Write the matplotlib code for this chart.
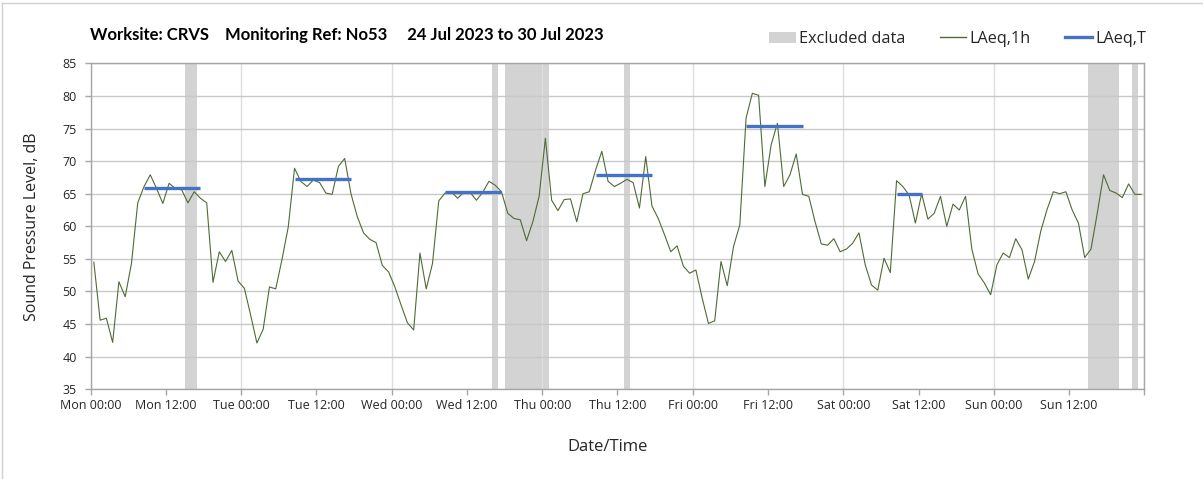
import matplotlib.pyplot as plt
import numpy as np
from matplotlib.lines import Line2D
from matplotlib.patches import Patch

plt.rcParams['font.family'] = ['Open Sans', 'DejaVu Sans']

# hourly LAeq,1h from Mon 24 Jul 00:00
laeq_1h = [
    54.5, 45.6, 45.9, 42.2, 51.5, 49.2, 54.3, 63.6, 66.1, 67.9, 65.8, 63.5,
    66.6, 65.8, 65.6, 63.6, 65.3, 64.3, 63.6, 51.4, 56.1, 54.6, 56.3, 51.6,
    50.5, 46.4, 42.1, 44.2, 50.7, 50.4, 54.9, 59.9, 68.9, 66.9, 66.1, 67.1,
    66.7, 65.1, 64.9, 69.2, 70.4, 65.0, 61.5, 59.0, 58.0, 57.5, 54.0, 53.0,
    50.7, 47.9, 45.2, 44.1, 55.9, 50.4, 54.3, 63.9, 65.1, 65.3, 64.3, 65.2,
    65.2, 64.0, 65.2, 66.9, 66.3, 65.3, 62.0, 61.2, 61.0, 57.8, 60.7, 64.6,
    73.5, 64.0, 62.4, 64.1, 64.2, 60.7, 65.0, 65.3, 68.6, 71.5, 66.9, 66.1,
    66.6, 67.2, 66.7, 62.8, 70.7, 63.1, 61.2, 58.7, 56.1, 57.0, 53.9, 52.8,
    53.3, 49.0, 45.1, 45.5, 54.6, 50.9, 56.9, 60.2, 76.6, 80.4, 80.1, 66.1,
    72.5, 75.8, 66.1, 67.9, 71.1, 64.9, 64.6, 60.7, 57.3, 57.1, 58.1, 56.1,
    56.5, 57.4, 59.0, 54.1, 51.0, 50.2, 55.1, 52.9, 67.0, 66.1, 64.8, 60.5,
    65.0, 61.1, 62.0, 64.6, 60.0, 63.4, 62.5, 64.6, 56.5, 52.7, 51.3, 49.5,
    54.1, 55.9, 55.2, 58.1, 56.4, 51.9, 54.6, 59.3, 62.6, 65.3, 65.0, 65.3,
    62.5, 60.5, 55.2, 56.5, 62.0, 67.9, 65.5, 65.1, 64.4, 66.5, 64.9, 64.9,
]

# excluded data periods (hours from Mon 00:00)
excluded_start = [15, 64, 66, 85, 159, 166]
excluded_end = [17, 65, 73, 86, 164, 167]

# LAeq,T over the working periods
period_start = [8.5, 32.5, 56.5, 80.5, 104.5, 128.5]
period_end = [17.5, 41.5, 65.5, 89.5, 113.5, 132.5]
period_level = [65.9, 67.3, 65.2, 67.8, 75.4, 65.0]

days = ['Mon', 'Tue', 'Wed', 'Thu', 'Fri', 'Sat', 'Sun']
tick_labels = [f'{d} {h}' for d in days for h in ('00:00', '12:00')]

title = 'Worksite: CRVS    Monitoring Ref: No53     24 Jul 2023 to 30 Jul 2023'

line_green = '#4f6b35'
line_blue = '#4472c4'
span_grey = '#d3d3d3'
axis_grey = '#a6a6a6'
text_col = '#262626'

fig = plt.figure(figsize=(12.03, 4.79), dpi=100)
ax = fig.add_axes([0.0754, 0.1873, 0.8758, 0.6805])

hours = np.arange(len(laeq_1h)) + 0.5

for s, e in zip(excluded_start, excluded_end):
    ax.axvspan(s, e, color=span_grey, lw=0, zorder=0.3)

ax.plot(hours, laeq_1h, color=line_green, lw=0.8, zorder=3)
ax.hlines(period_level, period_start, period_end, color=line_blue, lw=2.4, zorder=4)

# day gridlines
for d in range(0, 169, 24):
    ax.axvline(d, color='#dedede', lw=1.0, zorder=0.4)

ax.set_xlim(0, 168)
ax.set_ylim(35, 85)
ax.set_yticks(np.arange(35, 86, 5))
ax.set_xticks(np.arange(0, 169, 12))
ax.set_xticklabels(tick_labels + [''])
ax.yaxis.grid(True, color='#c8c8c8', lw=1.0)
ax.set_axisbelow(True)

ax.tick_params(axis='both', colors=axis_grey, labelcolor=text_col, labelsize=9,
               length=4, width=1, direction='out')
ax.tick_params(axis='y', pad=6)
ax.tick_params(axis='x', pad=3)
for sp in ax.spines.values():
    sp.set_color(axis_grey)
    sp.set_linewidth(1.0)

ax.set_ylabel('Sound Pressure Level, dB', fontsize=11.5, color=text_col)
ax.yaxis.set_label_coords(-0.0557, 0.5)
ax.yaxis.label.set_va('center')
ax.set_xlabel('Date/Time', fontsize=12, color=text_col)
ax.xaxis.set_label_coords(0.491, -0.176)
ax.xaxis.label.set_va('center')

fig.text(90 / 1203, 1 - 35 / 479, title, fontsize=12, fontweight='bold',
         color='black', ha='left', va='center', family=['Lato', 'DejaVu Sans'])

handles = [Patch(color=span_grey, lw=0),
           Line2D([], [], color=line_green, lw=1.0),
           Line2D([], [], color=line_blue, lw=2.4)]
fig.legend(handles, ['Excluded data', 'LAeq,1h', 'LAeq,T'], loc='center right',
           bbox_to_anchor=(1154 / 1203, 1 - 39 / 479), ncol=3, frameon=False,
           fontsize=11.7, handlelength=1.65, handleheight=0.7, handletextpad=0.2,
           columnspacing=2.1, borderpad=0, labelcolor=text_col)

# light frame round the picture
fig.add_artist(Line2D([1.5 / 1203, 1.5 / 1203], [0, 1 - 3 / 479], color='#d0d0d0', lw=1))
fig.add_artist(Line2D([1.5 / 1203, 1], [1 - 3 / 479, 1 - 3 / 479], color='#d0d0d0', lw=1))

fig.savefig('out.png', dpi=100)
